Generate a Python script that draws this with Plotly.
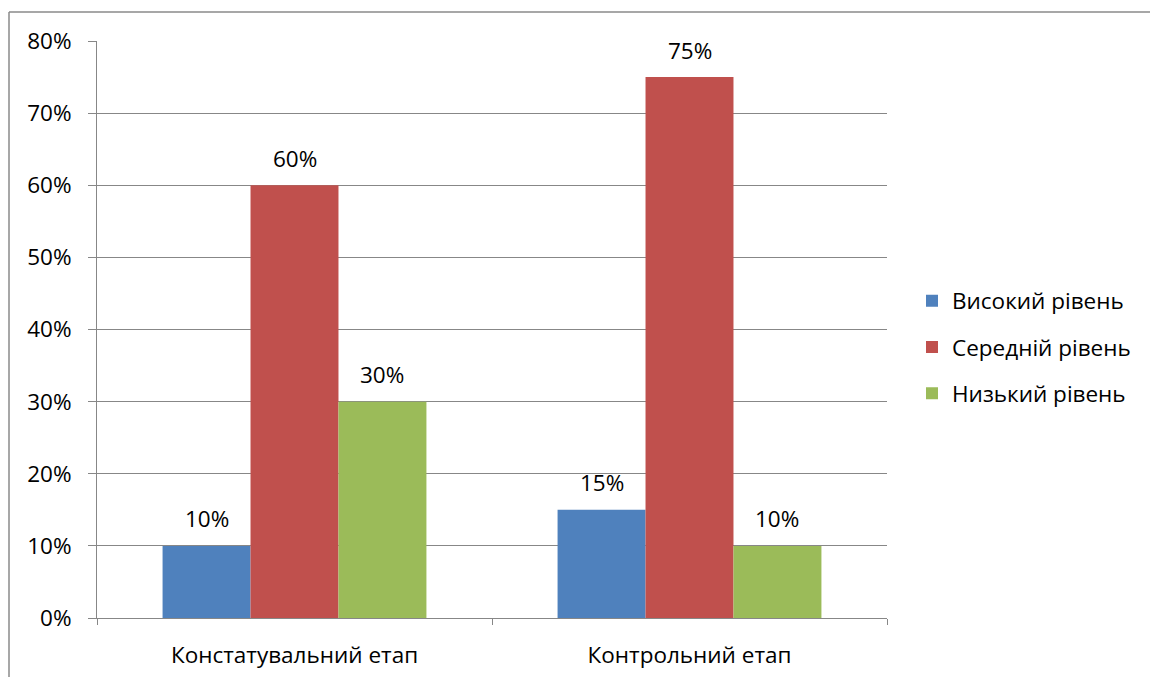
import plotly.graph_objects as go

categories = ["Констатувальний етап", "Контрольний етап"]
series_names = ["Високий рівень", "Середній рівень", "Низький рівень"]
high = [0.10, 0.15]
mid = [0.60, 0.75]
low = [0.30, 0.10]
colors = ["#4F81BD", "#C0504D", "#9BBB59"]
y_ticks = [0, 0.1, 0.2, 0.3, 0.4, 0.5, 0.6, 0.7, 0.8]

W, H = 1150, 677
ML, MR, MT, MB = 97, 263, 41, 59
FONT = "Open Sans"
FS = 22.5
GRID = "#878787"
BARGAP = 0.332

fig = go.Figure()
all_series = [high, mid, low]
for i, (name, vals, col) in enumerate(zip(series_names, all_series, colors)):
    fig.add_trace(go.Bar(
        x=categories, y=vals, name=name, marker_color=col,
        marker_line_width=0, legendgroup=f"g{i}",
    ))

# data labels
plot_w = W - ML - MR
cat_w = plot_w / len(categories)
bar_w = cat_w * (1 - BARGAP) / len(all_series)
for i, vals in enumerate(all_series):
    offset = (i - (len(all_series) - 1) / 2) * bar_w
    for c, v in zip(categories, vals):
        fig.add_annotation(
            x=c, y=v, xref="x", yref="y", text=f"{round(v*100)}%",
            showarrow=False, xshift=offset, yshift=27, yanchor="middle",
            font=dict(family=FONT, size=FS, color="#000000"),
        )

# outer frame
px2x = lambda px: (px - ML) / plot_w
py2y = lambda py: (H - MB - py) / (H - MT - MB)
fig.add_shape(type="line", xref="paper", yref="paper",
              x0=px2x(9), x1=px2x(9), y0=py2y(12), y1=py2y(700),
              line=dict(color="#8a8a8a", width=1.5))
fig.add_shape(type="line", xref="paper", yref="paper",
              x0=px2x(9), x1=px2x(1200), y0=py2y(12), y1=py2y(12),
              line=dict(color="#8a8a8a", width=1.5))

fig.update_layout(
    width=W, height=H,
    margin=dict(l=ML, r=MR, t=MT, b=MB, autoexpand=False),
    paper_bgcolor="white", plot_bgcolor="white",
    barmode="group", bargap=BARGAP, bargroupgap=0,
    font=dict(family=FONT, size=FS, color="#000000"),
    showlegend=True,
    legend=dict(x=px2x(912), y=py2y(347), xanchor="left", yanchor="middle",
                font=dict(family=FONT, size=FS), tracegroupgap=14,
                bgcolor="rgba(0,0,0,0)"),
    xaxis=dict(
        showline=True, linecolor=GRID, linewidth=1, automargin=False,
        ticks="outside", tickson="boundaries", ticklen=6, tickcolor=GRID,
        showgrid=False, ticklabelstandoff=17,
        tickfont=dict(family=FONT, size=FS),
    ),
    yaxis=dict(
        range=[0, 0.8], tickvals=y_ticks, tickformat=".0%", automargin=False,
        showline=True, linecolor=GRID, linewidth=1,
        showgrid=True, gridcolor=GRID, gridwidth=1,
        ticks="outside", ticklen=8, tickcolor=GRID,
        ticklabelstandoff=12, zeroline=False,
        tickfont=dict(family=FONT, size=FS),
    ),
)

fig.write_html("out.html")
